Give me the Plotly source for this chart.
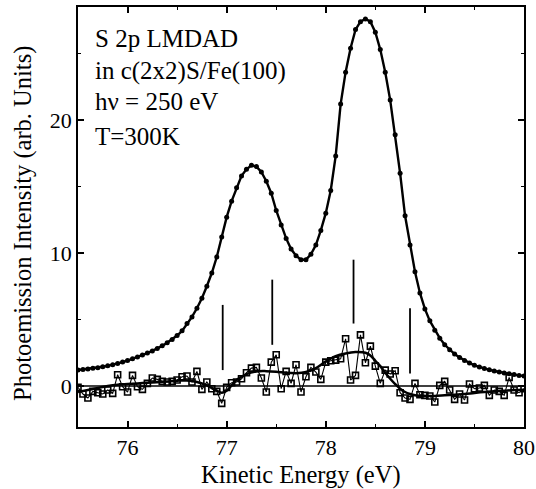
import plotly.graph_objects as go

# Kinetic energy grid (eV)
energy = [round(75.5 + 0.05 * i, 2) for i in range(91)]

# S 2p photoemission intensity (sum spectrum)
intensity = [
    1.20, 1.24, 1.28, 1.33, 1.38, 1.45, 1.52, 1.60, 1.70, 1.80,
    1.92, 2.05, 2.18, 2.33, 2.48, 2.64, 2.82, 3.02, 3.25, 3.50,
    3.80, 4.15, 4.70, 5.20, 5.85, 6.60, 7.50, 8.50, 9.70, 11.2,
    12.7, 13.9, 14.9, 15.8, 16.3, 16.6, 16.5, 16.1, 15.4, 14.5,
    13.2, 12.1, 11.1, 10.3, 9.8, 9.5, 9.5, 9.9, 10.6, 11.7,
    13.0, 14.7, 17.3, 21.2, 23.6, 25.4, 26.8, 27.4, 27.6, 27.4,
    26.6, 25.3, 23.6, 21.5, 18.9, 16.0, 12.8, 10.6, 8.6, 7.0,
    5.8, 4.9, 4.2, 3.6, 3.1, 2.72, 2.40, 2.15, 1.92, 1.74,
    1.56, 1.43, 1.32, 1.22, 1.13, 1.05, 0.98, 0.92, 0.86, 0.80,
    0.75,
]

# LMDAD difference spectrum
dichroism = [
    -0.1, -0.6, -0.9, -0.4, -0.5, -0.6, -0.3, -0.55, 0.85, -0.05,
    -0.45, 0.8, -0.05, -0.25, 0.2, 0.6, 0.5, 0.35, 0.3, 0.35,
    0.45, 0.7, 0.75, 0.3, 1.1, -0.25, 0.3, -0.2, -0.4, -1.3,
    -0.1, 0.25, 0.3, 0.55, 1.0, 1.35, 1.4, 0.6, -0.45, 1.8,
    2.35, -0.2, 1.1, 0.2, 1.6, -0.45, 0.7, 1.4, 1.05, 0.5,
    1.8, 1.9, 1.95, 2.05, 3.55, 0.45, 0.8, 3.85, 1.75, 3.0,
    1.5, 0.2, 1.2, 0.9, 1.15, -0.5, -0.9, -1.0, 0.2, -0.65,
    -0.7, -0.75, -1.2, 0.05, 0.35, -0.3, -1.0, -0.6, -1.05, 0.15,
    -0.2, -0.15, 0.05, -0.7, -0.3, -0.4, -0.7, 0.65, -0.3, -0.5,
    -0.2,
]

# Smooth fit to the difference spectrum
fit_energy = [
    75.5, 75.6, 75.7, 75.8, 75.9, 76.0, 76.1, 76.2, 76.3, 76.4,
    76.5, 76.6, 76.7, 76.8, 76.9, 76.95, 77.0, 77.05, 77.1, 77.2,
    77.3, 77.4, 77.5, 77.6, 77.7, 77.8, 77.9, 78.0, 78.1, 78.2,
    78.3, 78.4, 78.45, 78.5, 78.55, 78.6, 78.65, 78.7, 78.75, 78.8,
    78.85, 78.9, 79.0, 79.1, 79.2, 79.3, 79.4, 79.5, 79.6, 79.7,
    79.8, 79.9, 80.0,
]
fit_value = [
    -0.45, -0.3, -0.15, 0.0, 0.1, 0.15, 0.2, 0.25, 0.3, 0.35,
    0.4, 0.42, 0.3, 0.05, -0.35, -0.5, -0.35, 0.05, 0.45, 0.9,
    1.1, 1.12, 1.08, 1.0, 0.97, 1.05, 1.35, 1.85, 2.25, 2.45,
    2.55, 2.5, 2.3, 1.9, 1.5, 1.0, 0.55, 0.15, -0.2, -0.45,
    -0.6, -0.7, -0.75, -0.75, -0.7, -0.65, -0.6, -0.52, -0.45, -0.4,
    -0.35, -0.3, -0.27,
]

# Vertical markers for the component positions
bar_energy = [76.96, 77.46, 78.28, 78.85]
bar_low = [1.2, 3.1, 4.7, 0.95]
bar_high = [6.1, 8.0, 9.5, 5.85]

label_lines = ["S 2p LMDAD", "in c(2x2)S/Fe(100)", "hν = 250 eV", "T=300K"]
label_y = [26.1, 23.7, 21.4, 18.8]

FONT = "Liberation Serif, Times New Roman, serif"

fig = go.Figure()

# zero baseline
fig.add_trace(go.Scatter(x=[energy[0], energy[-1]], y=[0, 0], mode="lines",
                         line=dict(color="black", width=1.5), hoverinfo="skip"))

# difference spectrum
fig.add_trace(go.Scatter(x=energy, y=dichroism, mode="lines+markers",
                         line=dict(color="black", width=1.1),
                         marker=dict(symbol="square-open", size=6, color="black",
                                     line=dict(width=1.6, color="black"))))

# fit
fig.add_trace(go.Scatter(x=fit_energy, y=fit_value, mode="lines",
                         line=dict(color="black", width=2.5, shape="spline")))

# sum spectrum
fig.add_trace(go.Scatter(x=energy, y=intensity, mode="lines+markers",
                         line=dict(color="black", width=2.4),
                         marker=dict(symbol="circle", size=5, color="black")))

# component bars
bx, by = [], []
for e, lo, hi in zip(bar_energy, bar_low, bar_high):
    bx += [e, e, None]
    by += [lo, hi, None]
fig.add_trace(go.Scatter(x=bx, y=by, mode="lines",
                         line=dict(color="black", width=1.8), hoverinfo="skip"))

for txt, yy in zip(label_lines, label_y):
    fig.add_annotation(x=75.655, y=yy, xref="x", yref="y", text=txt,
                       showarrow=False, xanchor="left", yanchor="middle",
                       font=dict(family=FONT, size=25, color="black"))

# axis titles
fig.add_annotation(x=0.5, y=-0.115, xref="paper", yref="paper",
                   text="Kinetic Energy (eV)", showarrow=False,
                   xanchor="center", yanchor="middle",
                   font=dict(family=FONT, size=24.5, color="black"))
fig.add_annotation(x=-0.122, y=0.485, xref="paper", yref="paper",
                   text="Photoemission Intensity (arb. Units)", showarrow=False,
                   textangle=-90, xanchor="center", yanchor="middle",
                   font=dict(family=FONT, size=24.5, color="black"))

axis_common = dict(
    showline=True, linecolor="black", linewidth=1.5, mirror="ticks",
    ticks="inside", ticklen=6, tickwidth=1.5, tickcolor="black",
    showgrid=False, zeroline=False, automargin=False,
    tickfont=dict(family=FONT, size=22, color="black"),
)

fig.update_xaxes(range=[75.5, 80], tickvals=[76, 77, 78, 79, 80],
                 minor=dict(dtick=0.5, tick0=75.5, ticks="inside", ticklen=3.5,
                            tickwidth=1.2, tickcolor="black"),
                 **axis_common)
fig.update_yaxes(range=[-3.08, 28.5], tickvals=[0, 10, 20],
                 minor=dict(dtick=5, tick0=0, ticks="inside", ticklen=3.5,
                            tickwidth=1.2, tickcolor="black"),
                 **axis_common)

fig.update_layout(width=536, height=489, showlegend=False,
                  margin=dict(l=78, r=12, t=7, b=62),
                  paper_bgcolor="white", plot_bgcolor="white")

fig.write_html("out.html")
